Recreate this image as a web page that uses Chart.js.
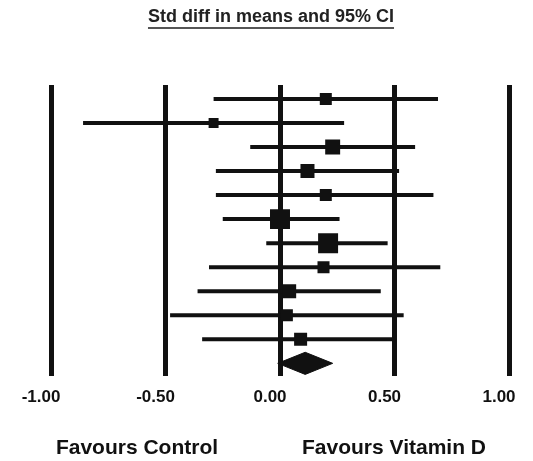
<!DOCTYPE html>
<html>
<head>
<meta charset="utf-8">
<script src="https://cdn.jsdelivr.net/npm/chart.js@4/dist/chart.umd.min.js"></script>
<style>
    body { margin: 0; background: #fff; }
    #wrap { width: 533px; height: 461px; }
</style>
</head>
<body>
<div id="wrap"><canvas id="forest" width="533" height="461"></canvas></div>
<script>
// Study level results (std diff in means, 95% CI)
const studyLow = [-0.29, -0.86, -0.13, -0.28, -0.28, -0.25, -0.06, -0.31, -0.36, -0.48, -0.34];
const studyHigh = [0.69, 0.28, 0.59, 0.52, 0.67, 0.26, 0.47, 0.70, 0.44, 0.54, 0.50];
const studyEffect = [0.20, -0.29, 0.23, 0.12, 0.20, 0.00, 0.21, 0.19, 0.04, 0.03, 0.09];
const studyWeight = [6.4, 4.4, 9.9, 8.7, 6.4, 17.7, 17.7, 6.4, 8.7, 6.4, 7.5];

// Pooled estimate
const summaryLow = [-0.01];
const summaryEffect = [0.11];
const summaryHigh = [0.23];

const tickValues = [-1, -0.5, 0, 0.5, 1];
const titleText = 'Std diff in means and 95% CI';
const sideLabels = ['Favours Control', 'Favours Vitamin D'];

const INK = '#111';
const FONT = '"Liberation Sans", Arial, sans-serif';

// CI lines, one dataset per study
const datasets = studyLow.map((lo, i) => ({
    data: [{ x: lo, y: i + 1 }, { x: studyHigh[i], y: i + 1 }],
    showLine: true,
    borderColor: INK,
    borderWidth: 4,
    pointRadius: 0,
    order: 3
}));

// Weight squares
datasets.push({
    data: studyEffect.map((v, i) => ({ x: v, y: i + 1 })),
    pointStyle: 'rect',
    pointRadius: studyWeight.map(w => 4.75 * Math.sqrt(w) / Math.SQRT2),
    backgroundColor: INK,
    borderWidth: 0,
    order: 2
});

// Summary diamond
const sumRow = studyEffect.length + 1;
const half = 0.46;
datasets.push({
    data: [
        { x: summaryLow[0], y: sumRow },
        { x: summaryEffect[0], y: sumRow - half },
        { x: summaryHigh[0], y: sumRow },
        { x: summaryEffect[0], y: sumRow + half },
        { x: summaryLow[0], y: sumRow }
    ],
    showLine: true,
    fill: 'shape',
    backgroundColor: INK,
    borderColor: INK,
    borderWidth: 1,
    pointRadius: 0,
    order: 1
});

const textPlugin = {
    id: 'forestText',
    afterDraw(chart) {
        const ctx = chart.ctx;
        ctx.save();
        ctx.fillStyle = '#222';
        ctx.textAlign = 'center';
        ctx.textBaseline = 'middle';
        ctx.font = 'bold 18px ' + FONT;
        ctx.fillText(titleText, 271, 17);
        const w = ctx.measureText(titleText).width;
        ctx.fillStyle = '#555';
        ctx.fillRect(271 - w / 2, 27, w, 2);

        ctx.fillStyle = INK;
        ctx.font = 'bold 21px ' + FONT;
        ctx.fillText(sideLabels[0], 137, 448);
        ctx.fillText(sideLabels[1], 394, 448);
        ctx.restore();
    }
};

new Chart(document.getElementById('forest'), {
    type: 'scatter',
    data: { datasets },
    options: {
        responsive: false,
        animation: false,
        events: [],
        layout: { padding: { top: 85, left: 51, right: 24, bottom: 41 } },
        plugins: {
            legend: { display: false },
            tooltip: { enabled: false }
        },
        scales: {
            x: {
                type: 'linear',
                min: -1,
                max: 1,
                afterBuildTicks: axis => {
                    axis.ticks = tickValues.map(v => ({ value: v }));
                },
                afterFit: axis => {
                    // edge labels fit in the padding, don't let them squeeze the plot
                    axis.paddingLeft = 0;
                    axis.paddingRight = 0;
                },
                border: { display: false },
                grid: { color: INK, lineWidth: 5, drawTicks: false },
                ticks: {
                    color: INK,
                    padding: 12,
                    labelOffset: -10,
                    maxRotation: 0,
                    font: { family: FONT, size: 17, weight: 'bold' },
                    callback: v => v.toFixed(2)
                }
            },
            y: {
                type: 'linear',
                display: false,
                reverse: true,
                min: 0.42,
                max: 12.51
            }
        }
    },
    plugins: [textPlugin]
});
</script>
</body>
</html>
